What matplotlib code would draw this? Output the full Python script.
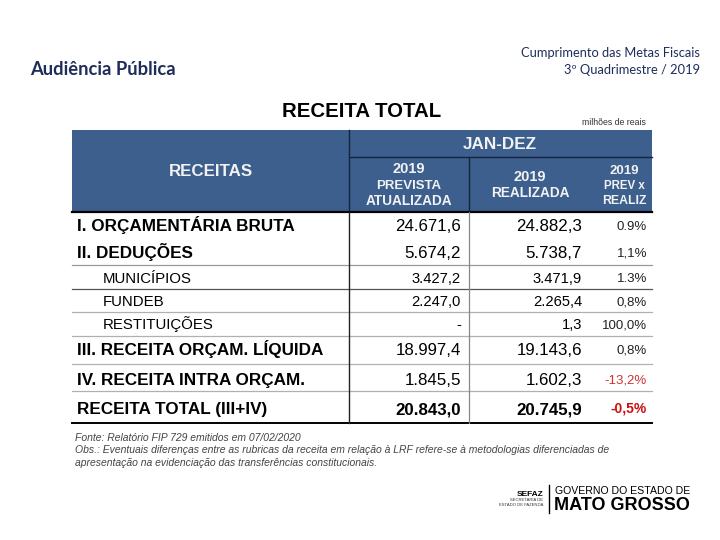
import matplotlib
matplotlib.use("Agg")
import matplotlib.pyplot as plt
from matplotlib.patches import Rectangle

# table content
row_labels = [
    "I. ORÇAMENTÁRIA BRUTA",
    "II. DEDUÇÕES",
    "MUNICÍPIOS",
    "FUNDEB",
    "RESTITUIÇÕES",
    "III. RECEITA ORÇAM. LÍQUIDA",
    "IV. RECEITA INTRA ORÇAM.",
    "RECEITA TOTAL (III+IV)",
]
is_sub = [False, False, True, True, True, False, False, False]
prevista = [24671.6, 5674.2, 3427.2, 2247.0, None, 18997.4, 1845.5, 20843.0]
realizada = [24882.3, 5738.7, 3471.9, 2265.4, 1.3, 19143.6, 1602.3, 20745.9]
prev_x_realiz = ["0.9%", "1,1%", "1.3%", "0,8%", "100,0%", "0,8%", "-13,2%", "-0,5%"]

col_headers = [
    ["2019", "PREVISTA", "ATUALIZADA"],
    ["2019", "REALIZADA"],
    ["2019", "PREV x", "REALIZ"],
]

FONT = "Liberation Sans"
BLUE = "#3C5F8D"
NAVY = "#1F2D5B"


def br(v):
    if v is None:
        return "-"
    s = f"{v:,.1f}"
    return s.replace(",", "X").replace(".", ",").replace("X", ".")


def put(ax, x, yc, s, size, ha="left", weight="normal", color="black",
        style="normal", family=FONT):
    # place text so that the capitals are centred on yc (pixel coords)
    yb = yc + 0.716 * size * 100 / 72 / 2
    ax.text(x, yb, s, fontsize=size, ha=ha, va="baseline", weight=weight,
            color=color, style=style, family=family)


fig = plt.figure(figsize=(7.2, 5.4), dpi=100)
ax = fig.add_axes([0, 0, 1, 1])
ax.set_xlim(0, 720)
ax.set_ylim(540, 0)
ax.axis("off")

# slide header
put(ax, 30, 68, "Audiência Pública", 13.2, weight="bold", color=NAVY, family="Lato")
put(ax, 700, 52, "Cumprimento das Metas Fiscais", 9.3, ha="right", color=NAVY, family="Lato")
put(ax, 700, 69, "3º Quadrimestre / 2019", 9.3, ha="right", color=NAVY, family="Lato")

put(ax, 362, 110, "RECEITA TOTAL", 14.7, ha="center", weight="bold")
put(ax, 646, 122, "milhões de reais", 6.3, ha="right", color="#333333")

# header block
x0, x1, xa, xb = 72, 652, 349, 469
ax.add_patch(Rectangle((x0, 130), x1 - x0, 81, color=BLUE, lw=0))
ax.plot([xa, xa], [130, 211], color="#16233a", lw=1)
ax.plot([xa, x1], [157, 157], color="#16233a", lw=1)
ax.plot([xb, xb], [157, 211], color="#16233a", lw=1)
ax.plot([x0, x1], [211.5, 211.5], color="black", lw=1.6)

put(ax, 211, 170, "RECEITAS", 12.2, ha="center", weight="bold", color="#f2f2f2")
put(ax, 500, 143, "JAN-DEZ", 12.3, ha="center", weight="bold", color="#f2f2f2")

head_x = [409, 530, 624]
head_y = [[168, 184.5, 200], [176, 192], [169.5, 184.5, 199.5]]
head_size = [[10.5, 9.5, 9.8], [10.5, 9.8], [9.5, 8.3, 8.8]]
for lines, cx, ys, sz in zip(col_headers, head_x, head_y, head_size):
    for s, y, z in zip(lines, ys, sz):
        put(ax, cx, y, s, z, ha="center", weight="bold", color="#f2f2f2")

# body
row_y = [225, 252, 277.5, 301, 324, 349, 379, 408]
edge_colors = {265: "#9a9a9a", 289: "#555555", 312: "#b0b0b0", 336: "#b0b0b0",
               364: "#b0b0b0", 391: "#b0b0b0"}
for y, c in edge_colors.items():
    ax.plot([x0, x1], [y, y], color=c, lw=0.9)
ax.plot([x0, x1], [423, 423], color="black", lw=1.4)
ax.plot([xa, xa], [212, 423], color="#222222", lw=1)
ax.plot([xb, xb], [212, 423], color="#888888", lw=0.9)

for i, label in enumerate(row_labels):
    y = row_y[i]
    total = i == len(row_labels) - 1
    if is_sub[i]:
        put(ax, 103, y, label, 10.8)
        nsize = 10.6
    else:
        put(ax, 77, y, label, 12.3, weight="bold")
        nsize = 12.2
    w = "bold" if total else "normal"
    put(ax, 461, y, br(prevista[i]), nsize, ha="right", weight=w)
    put(ax, 582, y, br(realizada[i]), nsize, ha="right", weight=w)
    pct = prev_x_realiz[i]
    if total:
        put(ax, 647, y, pct, 10, ha="right", weight="bold", color="#cc1111")
    elif pct.startswith("-"):
        put(ax, 647, y, pct, 9.5, ha="right", color="#cc3333")
    else:
        put(ax, 647, y, pct, 9.5, ha="right", color="#222222")

# notes
put(ax, 75, 437, "Fonte: Relatório FIP 729 emitidos em 07/02/2020", 7.5,
    style="italic", color="#444444")
put(ax, 75, 449, "Obs.: Eventuais diferenças entre as rubricas da receita em relação à LRF "
    "refere-se à metodologias diferenciadas de", 7.5, style="italic", color="#444444")
put(ax, 75, 462, "apresentação na evidenciação das transferências constitucionais.", 7.5,
    style="italic", color="#444444")

# logo
put(ax, 543, 493, "SEFAZ", 6, ha="right", weight="bold")
put(ax, 543, 499.5, "SECRETARIA DE", 3, ha="right", color="#333333")
put(ax, 543, 504.5, "ESTADO DE FAZENDA", 3, ha="right", color="#333333")
ax.plot([549, 549], [485, 513], color="black", lw=1)
put(ax, 555, 490, "GOVERNO DO ESTADO DE", 7.6)
put(ax, 554, 504, "MATO GROSSO", 13, weight="bold")

fig.savefig("out.png", dpi=100)
